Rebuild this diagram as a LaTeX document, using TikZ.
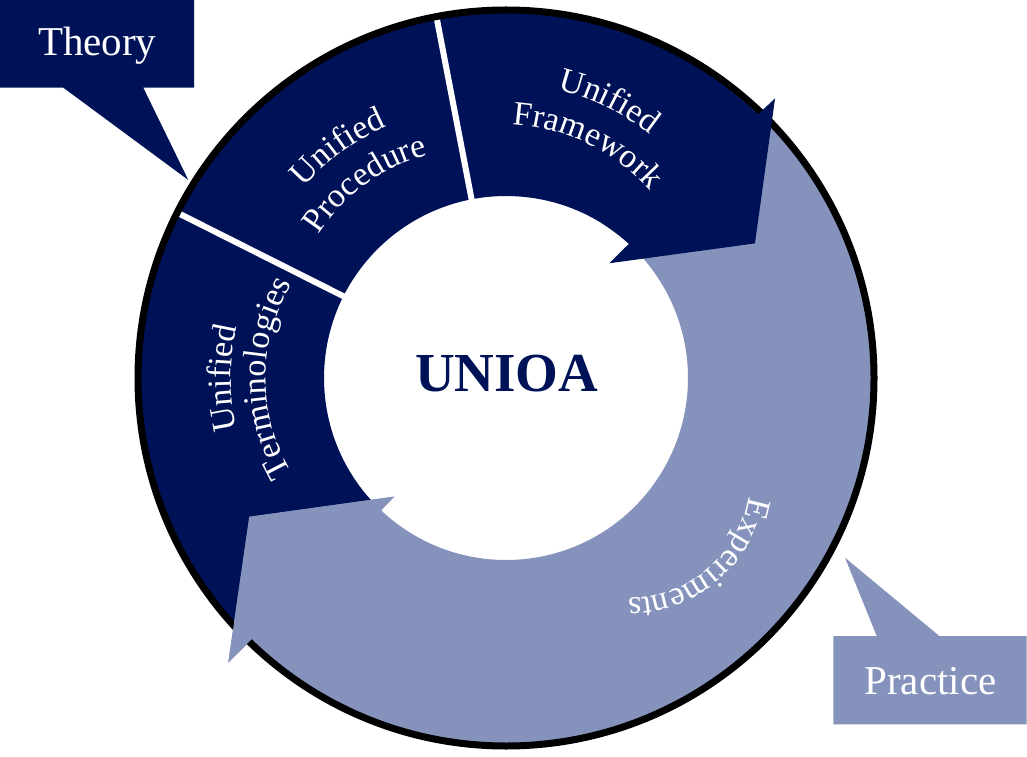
\documentclass[tikz,border=0pt]{standalone}
\usepackage{fontspec}
\setmainfont{Liberation Serif}
\usetikzlibrary{calc,decorations.text}
\definecolor{navy}{RGB}{0,18,87}
\definecolor{lavender}{RGB}{133,147,188}
\newcommand\arcfont{\fontsize{34}{34}\selectfont\color{white}}
\begin{document}
\begin{tikzpicture}[x=1pt,y=1pt,
  calltext/.style={font=\fontsize{41}{41}\selectfont, text=white, inner sep=0pt, anchor=base},
  arctext/.style={decorate, decoration={text along path, text align=center, text={|\arcfont|#1}}},
  sep/.style={draw=white, line width=6pt},
]
\useasboundingbox (0,0) rectangle (1027,756);
\coordinate (C) at (506,378);
\coordinate (CF) at (501,433);
\coordinate (CP) at (473.7,422.5);
\coordinate (CT) at (451,378);
\coordinate (CE) at (630,278);
% arrowhead points
\coordinate (DO) at ([shift={(46.1:388pt)}]C);
\coordinate (DT) at ([shift={(28.4:283pt)}]C);
\coordinate (DI) at ([shift={(48:154.4pt)}]C);
\coordinate (LO) at ([shift={(225.7:397.7pt)}]C);
\coordinate (LT) at ([shift={(208.4:291.8pt)}]C);
\coordinate (LI) at ([shift={(226.7:163pt)}]C);

% callouts
\fill[navy] (0,756) -- (194,756) -- (194,668.3) -- (143.3,668.3) -- (188.3,576) -- (63.3,668.3) -- (0,668.3) -- cycle;
\fill[lavender] (833.3,120) -- (876.7,120) -- (845,198.3) -- (939.3,120) -- (1026.7,120) -- (1026.7,31.7) -- (833.3,31.7) -- cycle;
\node[calltext] (theory) at (97.2,700) {Theory};
\node[calltext] (practice) at (930.5,62) {Practice};

% dark body
\fill[navy] ([shift={(46.3:366pt)}]C) arc[start angle=46.3, end angle=225.8, radius=366pt]
  -- ([shift={(226.7:182pt)}]C) arc[start angle=226.7, end angle=47.5, radius=182pt] -- cycle;
% light arrow (body + head)
\fill[lavender] ([shift={(52:366pt)}]C) arc[start angle=52, end angle=-134.2, radius=366pt]
  -- (LO) -- (LT) -- (LI)
  -- ([shift={(-133.3:182pt)}]C) arc[start angle=-133.3, end angle=52, radius=182pt] -- cycle;
% separators
\draw[sep] ([shift={(100.9:180pt)}]C) -- ([shift={(100.9:366pt)}]C);
\draw[sep] ([shift={(153.3:180pt)}]C) -- ([shift={(153.3:366pt)}]C);
% outer ring
\draw[line width=7pt] (C) circle[radius=368pt];
% heads over the ring
\fill[lavender] (LO) -- (LT) -- (LI) -- cycle;
\fill[navy] ([shift={(58:364.5pt)}]C) arc[start angle=58, end angle=46.3, radius=364.5pt]
  -- (DO) -- (DT) -- (DI)
  -- ([shift={(47.5:182pt)}]C) arc[start angle=47.5, end angle=58, radius=182pt] -- cycle;

% arc texts
\path[arctext=Unified] ([shift={(124:240pt)}]CF) arc[start angle=124, end angle=4, radius=240pt];
\path[arctext=Framework] ([shift={(124:199pt)}]CF) arc[start angle=124, end angle=4, radius=199pt];
\path[arctext=Unified] ([shift={(186:224pt)}]CP) arc[start angle=186, end angle=66, radius=224pt];
\path[arctext=Procedure] ([shift={(186:184pt)}]CP) arc[start angle=186, end angle=66, radius=184pt];
\path[arctext=Unified] ([shift={(240:220pt)}]CT) arc[start angle=240, end angle=120, radius=220pt];
\path[arctext=Terminologies] ([shift={(240:185pt)}]CT) arc[start angle=240, end angle=120, radius=185pt];
\path[arctext=Experiments] ([shift={(10:120pt)}]CE) arc[start angle=10, end angle=-110, radius=120pt];

\node[font=\bfseries\fontsize{55}{55}\selectfont, text=navy, anchor=base, inner sep=0pt] (unioa) at (506.7,364.3) {UNIOA};
\end{tikzpicture}
\end{document}
